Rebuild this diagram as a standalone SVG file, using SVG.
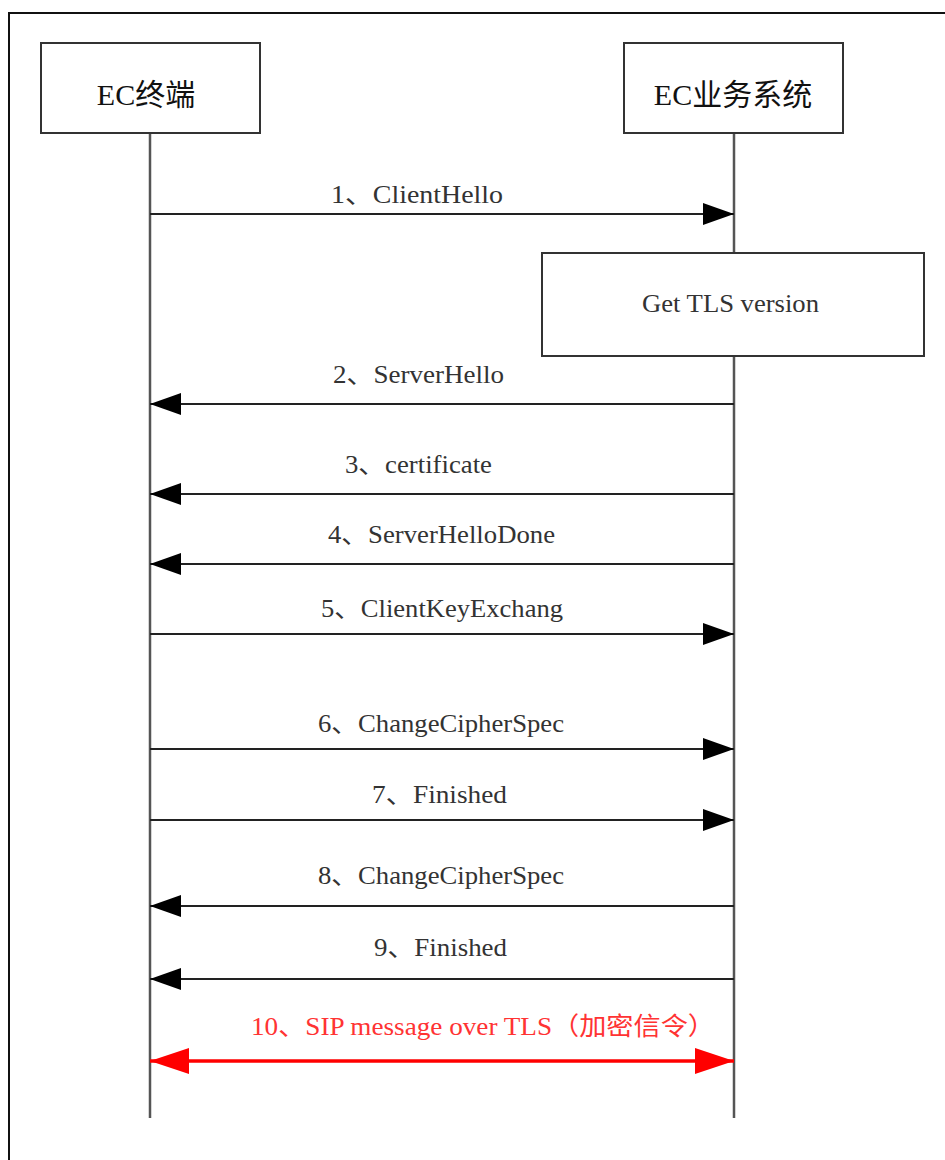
<svg xmlns="http://www.w3.org/2000/svg" width="945" height="1160" viewBox="0 0 945 1160">
<style>
.frame{fill:#fff;stroke:#111;stroke-width:2}
.box{fill:#fff;stroke:#333;stroke-width:2}
.life{stroke:#555;stroke-width:2.5;fill:none}
.msg{stroke:#222;stroke-width:2;fill:none}
.red{stroke:#ff0000;stroke-width:3.5;fill:none}
.title{font-family:"Liberation Serif","Noto Sans CJK SC",serif;font-size:30px;fill:#111;text-anchor:middle}
.lbl{font-family:"Liberation Serif","Noto Sans CJK SC",serif;font-size:25px;fill:#333}
.lblr{font-family:"Liberation Serif","Noto Sans CJK SC",serif;font-size:25px;fill:#ff3333}
</style>
<defs>
<marker id="ah" markerUnits="userSpaceOnUse" markerWidth="32" markerHeight="24" refX="31" refY="12" orient="auto">
<path d="M0,1 L31,12 L0,23 Z" fill="#000"/>
</marker>
<marker id="ahr" markerUnits="userSpaceOnUse" markerWidth="40" markerHeight="28" refX="39" refY="14" orient="auto-start-reverse">
<path d="M0,1 L39,14 L0,27 Z" fill="#ff0000"/>
</marker>
</defs>
<rect class="frame" x="9" y="13" width="1000" height="1200"/>
<g id="lifelines">
<line class="life" x1="150" y1="133" x2="150" y2="1118"/>
<line class="life" x1="734" y1="133" x2="734" y2="1118"/>
</g>
<g id="node-terminal">
<rect class="box" x="41" y="43" width="219" height="90"/>
<text class="title" x="146" y="105">EC终端</text>
</g>
<g id="node-system">
<rect class="box" x="624" y="43" width="219" height="90"/>
<text class="title" x="733" y="105">EC业务系统</text>
</g>
<g id="node-tls">
<rect class="box" x="542" y="253" width="382" height="103"/>
<text class="lbl" x="642" y="312" textLength="177" lengthAdjust="spacingAndGlyphs">Get TLS version</text>
</g>
<g id="connectors">
<line class="msg" x1="150" y1="214" x2="734" y2="214" marker-end="url(#ah)"/>
<line class="msg" x1="734" y1="404" x2="150" y2="404" marker-end="url(#ah)"/>
<line class="msg" x1="734" y1="494" x2="150" y2="494" marker-end="url(#ah)"/>
<line class="msg" x1="734" y1="564" x2="150" y2="564" marker-end="url(#ah)"/>
<line class="msg" x1="150" y1="634" x2="734" y2="634" marker-end="url(#ah)"/>
<line class="msg" x1="150" y1="749" x2="734" y2="749" marker-end="url(#ah)"/>
<line class="msg" x1="150" y1="820" x2="734" y2="820" marker-end="url(#ah)"/>
<line class="msg" x1="734" y1="906" x2="150" y2="906" marker-end="url(#ah)"/>
<line class="msg" x1="734" y1="979" x2="150" y2="979" marker-end="url(#ah)"/>
<line class="red" x1="150" y1="1061" x2="734" y2="1061" marker-start="url(#ahr)" marker-end="url(#ahr)"/>
</g>
<g id="labels">
<text class="lbl" x="331" y="203" textLength="172" lengthAdjust="spacingAndGlyphs">1、ClientHello</text>
<text class="lbl" x="333" y="383" textLength="171" lengthAdjust="spacingAndGlyphs">2、ServerHello</text>
<text class="lbl" x="345" y="473" textLength="147" lengthAdjust="spacingAndGlyphs">3、certificate</text>
<text class="lbl" x="328" y="543" textLength="227" lengthAdjust="spacingAndGlyphs">4、ServerHelloDone</text>
<text class="lbl" x="321" y="617" textLength="242" lengthAdjust="spacingAndGlyphs">5、ClientKeyExchang</text>
<text class="lbl" x="318" y="732" textLength="246" lengthAdjust="spacingAndGlyphs">6、ChangeCipherSpec</text>
<text class="lbl" x="372" y="803" textLength="135" lengthAdjust="spacingAndGlyphs">7、Finished</text>
<text class="lbl" x="318" y="884" textLength="246" lengthAdjust="spacingAndGlyphs">8、ChangeCipherSpec</text>
<text class="lbl" x="374" y="956" textLength="133" lengthAdjust="spacingAndGlyphs">9、Finished</text>
<text class="lblr" x="251" y="1035" textLength="464" lengthAdjust="spacingAndGlyphs">10、SIP message over TLS（加密信令）</text>
</g>
</svg>
